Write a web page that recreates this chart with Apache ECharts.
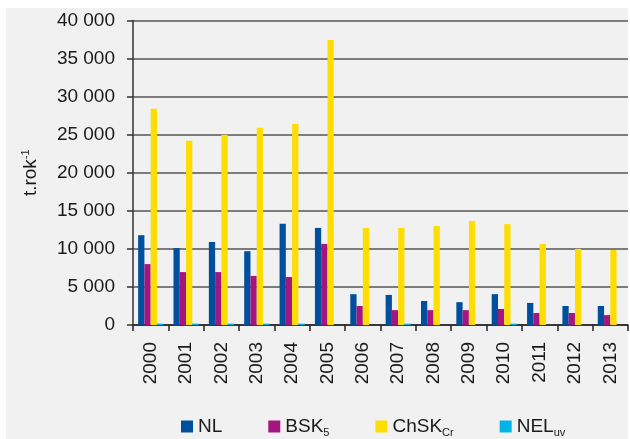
<html lang="en">

<head>
    <meta charset="UTF-8">
    <title>Document</title>
    <style>
        body {
            margin: 0;
            background: #fff;
        }

        #echart {
            width: 630px;
            height: 439px;
        }
    </style>
</head>

<body>
<div id="echart"></div>
<script src="https://cdn.jsdelivr.net/npm/echarts@6/dist/echarts.min.js"></script>
<script>
    // roky a hodnoty (t.rok-1)
    const years = ['2000', '2001', '2002', '2003', '2004', '2005', '2006',
        '2007', '2008', '2009', '2010', '2011', '2012', '2013']
    const nl = [11800, 10100, 10900, 9700, 13300, 12750, 4050, 3950, 3150, 3000, 4050, 2900, 2500, 2500]
    const bsk5 = [8000, 6950, 6950, 6450, 6300, 10650, 2500, 1950, 1950, 1950, 2100, 1580, 1580, 1300]
    const chskCr = [28400, 24200, 25000, 25900, 26400, 37450, 12750, 12750, 13000, 13650, 13250, 10650, 10000, 9850]
    const nelUv = [180, 180, 180, 180, 180, 0, 0, 180, 0, 0, 180, 0, 0, 0]
    const yTicks = [0, 5000, 10000, 15000, 20000, 25000, 30000, 35000, 40000]

    const font = 'Liberation Sans'
    const txt = '#1a1a1a'

    const echartDom = document.getElementById('echart')
    let echart = echarts.init(echartDom)

    const sub = {fontSize: 11, fontFamily: font, color: txt, padding: [12, 0, 0, 0]}
    const base = {fontSize: 19, fontFamily: font, color: txt}

    echart.setOption({
        animation: false,
        textStyle: {fontFamily: font},
        graphic: [{
            type: 'rect',
            z: -10,
            shape: {x: 6, y: 8, width: 622, height: 431},
            style: {fill: '#f1f1f1'}
        }],
        grid: {left: 133, right: 2, top: 20.5, bottom: 114},
        legend: {
            top: 412,
            left: 176,
            icon: 'rect',
            itemWidth: 12,
            itemHeight: 12,
            itemGap: 46,
            data: ['NL', 'BSK5', 'ChSKCr', 'NELuv'],
            formatter: name => ({
                NL: '{n|NL}',
                BSK5: '{n|BSK}{s|5}',
                ChSKCr: '{n|ChSK}{s|Cr}',
                NELuv: '{n|NEL}{s|uv}'
            })[name],
            textStyle: {rich: {n: base, s: sub}}
        },
        xAxis: {
            type: 'category',
            data: years,
            axisLine: {lineStyle: {color: '#222', width: 1.5}},
            axisTick: {show: true, length: 6, lineStyle: {color: '#222', width: 1.5}},
            axisLabel: {rotate: 90, margin: 17, fontSize: 19, color: txt}
        },
        yAxis: {
            type: 'value',
            min: yTicks[0],
            max: yTicks[yTicks.length - 1],
            interval: 5000,
            name: '{a|t.rok}{b|-1}',
            nameLocation: 'middle',
            nameGap: 92,
            nameTextStyle: {
                rich: {
                    a: base,
                    b: {fontSize: 11, fontFamily: font, color: txt, padding: [0, 0, 10, 0]}
                }
            },
            axisLine: {show: true, lineStyle: {color: '#333', width: 1.5}},
            axisTick: {show: true, length: 6, lineStyle: {color: '#333', width: 1.5}},
            axisLabel: {
                margin: 18,
                fontSize: 19,
                color: txt,
                formatter: v => String(v).replace(/\B(?=(\d{3})+(?!\d))/g, ' ')
            },
            splitLine: {lineStyle: {color: '#555', width: 1.5}}
        },
        series: [
            {name: 'NL', type: 'bar', data: nl, itemStyle: {color: '#004f9e'}, barGap: '0%', barCategoryGap: '29%'},
            {name: 'BSK5', type: 'bar', data: bsk5, itemStyle: {color: '#a5157f'}},
            {name: 'ChSKCr', type: 'bar', data: chskCr, itemStyle: {color: '#ffdd00'}},
            {name: 'NELuv', type: 'bar', data: nelUv, itemStyle: {color: '#00b5e6'}}
        ]
    })
</script>
</body>

</html>
